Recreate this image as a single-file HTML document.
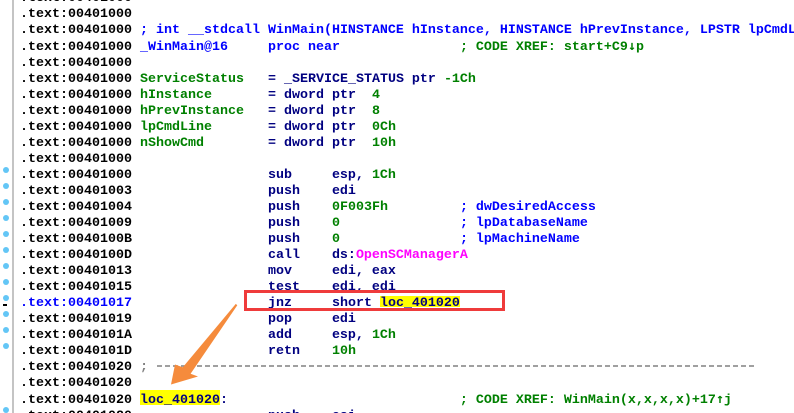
<!DOCTYPE html>
<html><head><meta charset="utf-8"><style>
html,body{margin:0;padding:0;width:794px;height:413px;overflow:hidden;background:#fff;position:relative;}
#clip{position:absolute;left:0;top:0;width:794px;height:413px;overflow:hidden;z-index:2;}
#code{position:absolute;left:20px;top:-9px;width:774px;overflow:hidden;margin:0;font-family:"Liberation Mono","DejaVu Sans Mono",monospace;font-weight:bold;font-size:13.333px;line-height:16px;white-space:pre;color:#000;}
.n{color:#000080}.b{color:#0000ff}.g{color:#008000}.m{color:#ff00ff}.gr{color:#808080}
.ar{font-family:"DejaVu Sans Mono",monospace;}
.dot{position:absolute;left:3px;width:6px;height:6px;border-radius:50%;background:#63c6f6;}
.hl{position:absolute;background:#ffff00;z-index:1;}
#vline{position:absolute;left:12px;top:0;width:2px;height:413px;background:#c4c4c4;}
#rbox{position:absolute;left:244px;top:290px;width:255px;height:15px;border:3px solid #ef3b3b;z-index:3;}
svg{position:absolute;left:0;top:0;z-index:4;}
</style></head><body>
<div id="vline"></div>
<div class="hl" style="left:380px;top:296px;width:80px;height:11px;"></div>
<div class="hl" style="left:140px;top:390px;width:80px;height:15px;"></div>
<div class="dot" style="top:166.5px"></div>
<div class="dot" style="top:182.5px"></div>
<div class="dot" style="top:198.5px"></div>
<div class="dot" style="top:214.5px"></div>
<div class="dot" style="top:230.5px"></div>
<div class="dot" style="top:246.5px"></div>
<div class="dot" style="top:262.5px"></div>
<div class="dot" style="top:278.5px"></div>
<div class="dot" style="top:294.5px"></div>
<div class="dot" style="top:310.5px"></div>
<div class="dot" style="top:326.5px"></div>
<div class="dot" style="top:342.5px"></div>
<div class="dot" style="top:406.5px"></div>
<div style="position:absolute;left:3px;top:304px;width:4px;height:1.5px;background:#000;"></div>
<div id="clip">
<pre id="code">.text:00401000
.text:00401000
.text:00401000 <span class="b">; int __stdcall WinMain(HINSTANCE hInstance, HINSTANCE hPrevInstance, LPSTR lpCmdL</span>
.text:00401000 <span class="b">_WinMain@16     proc near</span>               <span class="g">; CODE XREF: start+C9<span class="ar">↓</span>p</span>
.text:00401000
.text:00401000 <span class="g">ServiceStatus</span>   <span class="n">= _SERVICE_STATUS ptr</span> <span class="g">-1Ch</span>
.text:00401000 <span class="g">hInstance</span>       <span class="n">= dword ptr</span>  <span class="g">4</span>
.text:00401000 <span class="g">hPrevInstance</span>   <span class="n">= dword ptr</span>  <span class="g">8</span>
.text:00401000 <span class="g">lpCmdLine</span>       <span class="n">= dword ptr</span>  <span class="g">0Ch</span>
.text:00401000 <span class="g">nShowCmd</span>        <span class="n">= dword ptr</span>  <span class="g">10h</span>
.text:00401000
.text:00401000                 <span class="n">sub     esp, </span><span class="g">1Ch</span>
.text:00401003                 <span class="n">push    edi</span>
.text:00401004                 <span class="n">push    </span><span class="g">0F003Fh</span>         <span class="b">; dwDesiredAccess</span>
.text:00401009                 <span class="n">push    </span><span class="g">0</span>               <span class="b">; lpDatabaseName</span>
.text:0040100B                 <span class="n">push    </span><span class="g">0</span>               <span class="b">; lpMachineName</span>
.text:0040100D                 <span class="n">call    ds:</span><span class="m">OpenSCManagerA</span>
.text:00401013                 <span class="n">mov     edi, eax</span>
.text:00401015                 <span class="n">test    edi, edi</span>
<span class="b">.text:00401017</span>                 <span class="n">jnz     short loc_401020</span>
.text:00401019                 <span class="n">pop     edi</span>
.text:0040101A                 <span class="n">add     esp, </span><span class="g">1Ch</span>
.text:0040101D                 <span class="n">retn    </span><span class="g">10h</span>
.text:00401020 <span class="gr">;</span>
.text:00401020
.text:00401020 <span class="n">loc_401020:</span>                             <span class="g">; CODE XREF: WinMain(x,x,x,x)+17<span class="ar">↑</span>j</span>
.text:00401020                 <span class="n">push    esi</span>
</pre>
</div>
<div id="rbox"></div>
<svg width="794" height="413" viewBox="0 0 794 413">
<line x1="157" y1="366" x2="756" y2="366" stroke="#808080" stroke-width="1.5" stroke-dasharray="5 3"/>
<polygon points="237.3,305.2 190.6,373.7 198,376.5 171,384.5 175,364.5 182.8,367.3 235.8,303.9" fill="#f58b3c"/>
</svg>
</body></html>
